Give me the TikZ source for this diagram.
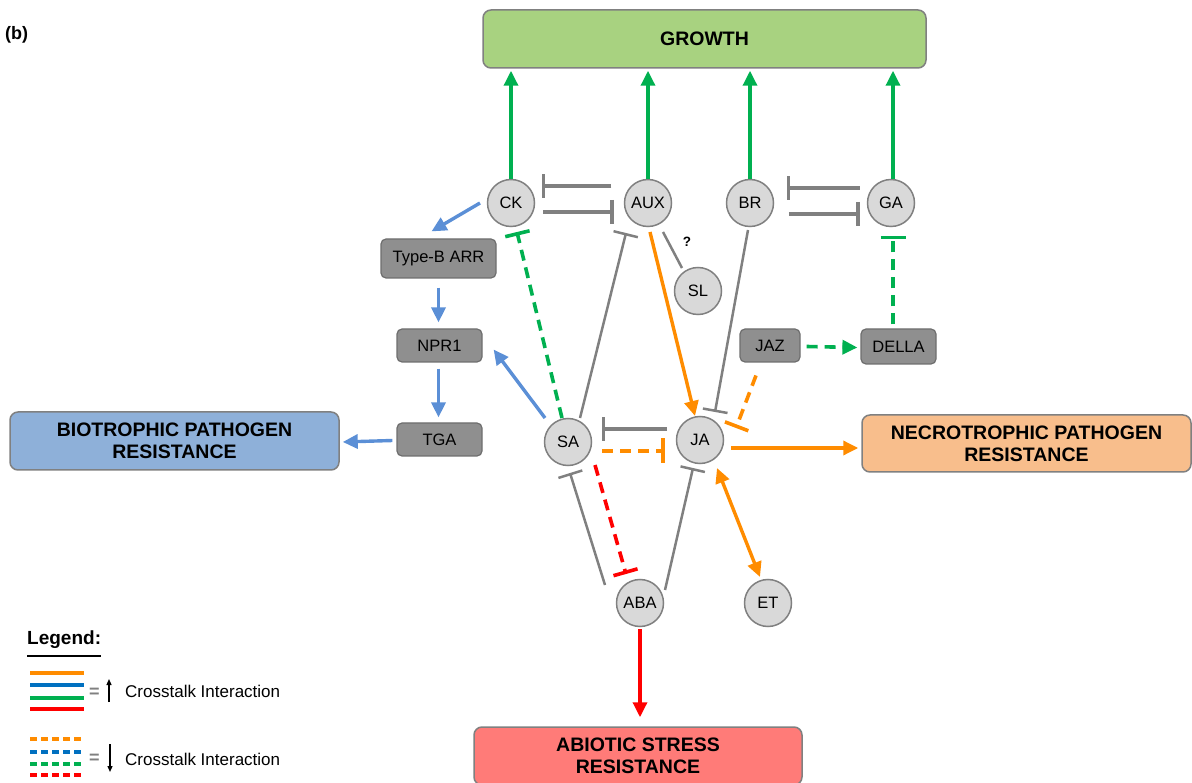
\documentclass[tikz,border=0pt]{standalone}
\usepackage{fontspec}
\setmainfont{Liberation Sans}
\usetikzlibrary{arrows.meta,calc}
\definecolor{cgreen}{HTML}{00B050}
\definecolor{corange}{HTML}{FF8C00}
\definecolor{cblue}{HTML}{5B8FD6}
\definecolor{clblue}{HTML}{0070C0}
\definecolor{cred}{HTML}{FF0000}
\definecolor{cgray}{HTML}{808080}
\definecolor{circfill}{HTML}{D9D9D9}
\definecolor{boxfill}{HTML}{8F8F8F}
\definecolor{boxdraw}{HTML}{6E6E6E}
\definecolor{growfill}{HTML}{A8D280}
\definecolor{biofill}{HTML}{8EB0D9}
\definecolor{necfill}{HTML}{F8BE8C}
\definecolor{abifill}{HTML}{FF7B78}
\tikzset{
  horm/.style={circle,draw=cgray,fill=circfill,line width=1.5pt,minimum size=47pt,inner sep=0pt,font=\fontsize{16.5}{18}\selectfont},
  gbox/.style={rounded corners=5pt,draw=boxdraw,fill=boxfill,line width=1.2pt,inner sep=0pt,font=\fontsize{16.5}{18}\selectfont},
  bigbox/.style={rounded corners=8pt,draw=cgray,line width=1.5pt,inner sep=0pt,align=center,font=\fontsize{19.5}{22}\selectfont\bfseries},
  act/.style={line width=3.4pt,-{Triangle[length=15pt,width=14pt]}},
  dact/.style={line width=3.6pt,-{Triangle[length=15pt,width=14pt]},dash pattern=on 11pt off 7pt},
  dinh/.style={line width=3.6pt,-{Bar[width=25pt]},dash pattern=on 11pt off 7pt},
  ginh/.style={line width=3.4pt,-{Bar[width=24pt]},cgray},
  dginh/.style={line width=2.5pt,-{Bar[width=25pt]},cgray},
  legtxt/.style={font=\fontsize{17}{19}\selectfont,anchor=west,inner sep=0pt},
}
\begin{document}
\begin{tikzpicture}[x=1pt,y=-1pt]
\useasboundingbox (0,0) rectangle (1192,783);
% title
\node[font=\fontsize{18}{20}\selectfont\bfseries,anchor=west,inner sep=0pt] (lbl) at (5,35) {(b)};
% big boxes
\node[bigbox,fill=growfill,minimum width=443pt,minimum height=58pt] (GROWTH) at (704.5,39) {GROWTH};
\node[bigbox,fill=biofill,minimum width=329pt,minimum height=58pt] (BIO) at (174.5,441) {BIOTROPHIC PATHOGEN\\RESISTANCE};
\node[bigbox,fill=necfill,minimum width=329pt,minimum height=57pt] (NEC) at (1026.5,443.5) {NECROTROPHIC PATHOGEN\\RESISTANCE};
\node[bigbox,fill=abifill,minimum width=328pt,minimum height=58pt] (ABI) at (638,756) {ABIOTIC STRESS\\RESISTANCE};
% hormones
\node[horm] (CK) at (511,203) {CK};
\node[horm] (AUX) at (648,203) {AUX};
\node[horm] (BR) at (750,203) {BR};
\node[horm] (GA) at (891,203) {GA};
\node[horm] (SL) at (698,291) {SL};
\node[horm] (SA) at (568,442) {SA};
\node[horm] (JA) at (700,440) {JA};
\node[horm] (ABA) at (640,603) {ABA};
\node[horm] (ET) at (768,603) {ET};
% grey boxes
\node[gbox,minimum width=115pt,minimum height=39pt] (TypeB) at (438.5,258.5) {Type-B ARR};
\node[gbox,minimum width=85pt,minimum height=33pt] (NPR1) at (439.5,345.5) {NPR1};
\node[gbox,minimum width=85pt,minimum height=33pt] (TGA) at (439.5,439.5) {TGA};
\node[gbox,minimum width=60pt,minimum height=33pt] (JAZ) at (770,345.5) {JAZ};
\node[gbox,minimum width=75pt,minimum height=35pt] (DELLA) at (898.5,346.5) {DELLA};
\node[font=\fontsize{13.5}{15}\selectfont\bfseries,inner sep=0pt] (q) at (687,242) {?};
% growth arrows
\draw[act,cgreen,shorten >=2pt] (CK.north) -- (CK.north |- GROWTH.south);
\draw[act,cgreen,shorten >=2pt] (AUX.north) -- (AUX.north |- GROWTH.south);
\draw[act,cgreen,shorten >=2pt] (BR.north) -- (BR.north |- GROWTH.south);
\draw[act,cgreen,shorten >=2pt] ($(GA.north)+(2,0)$) -- ($(GA.north |- GROWTH.south)+(2,0)$);
% CK / AUX mutual inhibition
\draw[ginh] ($(AUX.west)+(-12.5,-17)$) -- ($(CK.east)+(6.5,-17)$);
\draw[ginh] ($(CK.east)+(8,9)$) -- ($(AUX.west)+(-10,9)$);
% BR / GA mutual inhibition
\draw[ginh] ($(GA.west)+(-7,-15)$) -- ($(BR.east)+(12.5,-15)$);
\draw[ginh] ($(BR.east)+(14.5,11)$) -- ($(GA.west)+(-7,11)$);
% AUX -- SL
\draw[cgray,line width=2.5pt] ($(AUX)+(15,29)$) -- ($(SL)+(-16,-23)$);
% CK branch
\draw[act,cblue] ($(CK)+(-31,0)$) -- ($(TypeB.north)+(-7,-7)$);
\draw[act,cblue] ($(TypeB.south)+(0,9)$) -- ($(TypeB.south |- NPR1.north)+(0,-6)$);
\draw[act,cblue] ($(NPR1.south)+(-1,6)$) -- ($(TGA.north)+(-1,-5)$);
\draw[act,cblue] ($(TGA.west)+(-4,1)$) -- ($(BIO.east)+(3,1)$);
\draw[act,cblue] ($(SA)+(-23,-24)$) -- ($(NPR1.east)+(11,4)$);
% SA -| CK (green dashed)
\draw[dinh,cgreen] ($(SA)+(-6,-24)$) -- ($(CK)+(6,29)$);
% SA -| AUX
\draw[dginh] ($(SA)+(12,-24)$) -- ($(AUX)+(-22,30)$);
% AUX -> JA
\draw[act,corange] ($(AUX)+(2,29)$) -- ($(JA)+(-5,-24)$);
% BR -| JA
\draw[dginh] ($(BR)+(-2,27)$) -- ($(JA)+(15,-28)$);
% JAZ -| JA
\draw[dinh,corange] ($(JAZ)+(-14,30)$) -- ($(JA)+(36,-12)$);
% JAZ -> DELLA
\draw[dact,cgreen] ($(JAZ.east)+(6,1)$) -- ($(DELLA.west)+(-3,1)$);
% DELLA -| GA
\draw[dinh,cgreen] ($(DELLA.north)+(-5.5,-4)$) -- ($(GA.south)+(2,8.5)$);
% JA -| SA and SA -| JA
\draw[ginh] ($(JA)+(-33,-11)$) -- ($(SA)+(34,-13)$);
\draw[dinh,corange] ($(SA)+(34,9)$) -- ($(JA)+(-35,11)$);
% JA -> NEC
\draw[act,corange] ($(JA)+(31,8)$) -- ($(NEC.west)+(-3,4.5)$);
% ABA -| SA
\draw[dginh] ($(ABA)+(-35,-18)$) -- ($(SA)+(2,31)$);
% SA -| ABA
\draw[dinh,cred] ($(SA)+(27,23)$) -- ($(ABA)+(-14,-29)$);
% ABA -| JA
\draw[dginh] ($(ABA)+(25,-13)$) -- ($(JA)+(-7,28)$);
% JA <-> ET
\draw[line width=3.4pt,{Triangle[length=15pt,width=14pt]}-{Triangle[length=15pt,width=14pt]},corange] ($(JA)+(17,28)$) -- ($(ET)+(-8,-26)$);
% ABA -> ABI
\draw[act,cred] ($(ABA.south)+(0,2)$) -- ($(ABA.south |- ABI.north)+(0,-9)$);
% Legend
\node[font=\fontsize{19}{20}\selectfont\bfseries,anchor=west,inner sep=0pt] (leg) at (27,640) {Legend:};
\draw[line width=2.5pt,black] (leg.south west) ++(0,7) coordinate (ul1) -- (ul1 -| leg.south east);
\coordinate (l1a) at (30,673); \coordinate (l1b) at (84,673);
\draw[line width=3.5pt,corange] (l1a) -- (l1b);
\draw[line width=3.5pt,clblue] ($(l1a)+(0,12)$) -- ($(l1b)+(0,12)$);
\draw[line width=3.5pt,cgreen] ($(l1a)+(0,25)$) -- ($(l1b)+(0,25)$);
\draw[line width=3.5pt,cred] ($(l1a)+(0,36)$) -- ($(l1b)+(0,36)$);
\node[legtxt,text=cgray,font=\fontsize{18}{19}\selectfont\bfseries] (eq1) at (89,693) {=};
\draw[line width=1.2pt,-{Triangle[length=6pt,width=5pt]}] (109,702) coordinate (ua) -- (109,679) coordinate (ub);
\node[legtxt] (t1) at (125,691) {Crosstalk Interaction};
\coordinate (l2a) at (30,739); \coordinate (l2b) at (84,739);
\tikzset{legd/.style={line width=3.5pt,dash pattern=on 6.5pt off 4.5pt}}
\draw[legd,corange] (l2a) -- (l2b);
\draw[legd,clblue] ($(l2a)+(0,13)$) -- ($(l2b)+(0,13)$);
\draw[legd,cgreen] ($(l2a)+(0,25)$) -- ($(l2b)+(0,25)$);
\draw[legd,cred] ($(l2a)+(0,36)$) -- ($(l2b)+(0,36)$);
\node[legtxt,text=cgray,font=\fontsize{18}{19}\selectfont\bfseries] (eq2) at (89,759) {=};
\draw[line width=1.2pt,-{Triangle[length=6pt,width=5pt]}] (110,744) coordinate (da) -- (110,772) coordinate (db);
\node[legtxt] (t2) at (125,759) {Crosstalk Interaction};
\end{tikzpicture}
\end{document}
